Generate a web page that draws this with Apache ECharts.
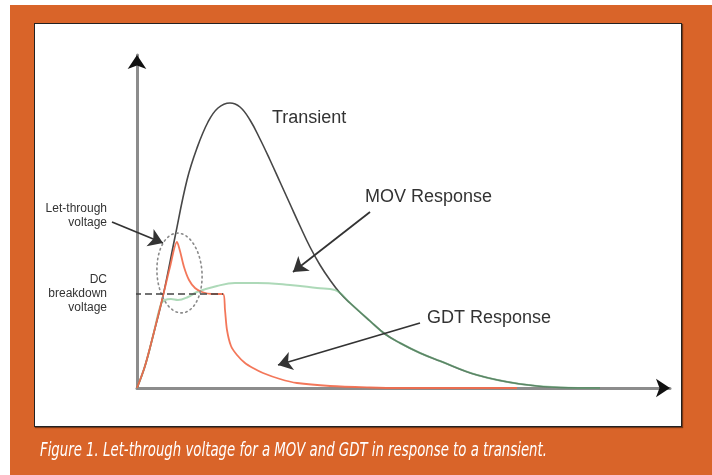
<!DOCTYPE html>
<html>
<head>
<meta charset="utf-8">
<script src="https://cdn.jsdelivr.net/npm/echarts@6/dist/echarts.min.js"></script>
<style>
  html, body { margin: 0; padding: 0; background: #fff; }
  #frame { position: absolute; left: 10px; top: 5px; width: 702px; height: 470px; background: #d96429; }
  #panel { position: absolute; left: 34px; top: 23px; width: 646px; height: 402px; background: #fff;
           border: 1px solid #222; box-shadow: 1px 1px 1px rgba(0, 0, 0, .45); }
  #chart { position: absolute; left: 0; top: 0; width: 712px; height: 475px; }
  #caption { position: absolute; left: 40px; top: 438px; color: #fff; white-space: nowrap;
             font: italic 19px "Liberation Sans Narrow", "DejaVu Sans Condensed", sans-serif;
             transform-origin: 0 50%; }
</style>
</head>
<body>
<div id="frame"></div>
<div id="panel"></div>
<div id="chart"></div>
<div id="caption">Figure 1. Let-through voltage for a MOV and GDT in response to a transient.</div>
<script>
// curves in [time, voltage], arbitrary units (1 unit ~ 1 px of the figure)
const transient = [
  [0, 0], [8, 22], [16, 52], [26, 92], [38, 151], [50, 208], [60, 240], [71, 266], [81, 280],
  [93, 285], [103, 281], [113, 268], [123, 249], [133, 228], [143, 206], [153, 184], [163, 162],
  [173, 141], [183, 123], [193, 108], [203, 95], [213, 85], [233, 67], [248, 54], [263, 45],
  [283, 35], [303, 27], [340, 13], [383, 4], [423, 0.5], [463, 0]
];
const movResponse = [
  [0, 0], [8, 22], [16, 52], [24, 84], [28, 88], [34, 89], [41, 88], [51, 91], [60, 96],
  [80, 102], [98, 105], [120, 105], [153, 103], [180, 100], [198, 98], [213, 85], [233, 67],
  [248, 54], [263, 45], [283, 35], [303, 27], [340, 13], [383, 4], [423, 0.5], [463, 0]
];
const gdtResponse = [
  [0, 0], [8, 22], [16, 52], [26, 92], [33, 121], [40, 146], [43, 137], [47, 121], [52, 108],
  [58, 100], [65, 96], [75, 94], [86, 94], [88, 78], [90, 58], [94, 42], [100, 33], [108, 25],
  [116, 20], [126, 15], [143, 9], [160, 5], [193, 2], [233, 0.5], [263, 0], [380, 0]
];
const dcBreakdown = [[-25, 94], [86, 94]];
const arrows = [
  [[-25, 166], [26, 145]],   // let-through voltage
  [[233, 176], [156, 116]],  // MOV response
  [[283, 65], [141, 23]]     // GDT response
];
const axisEnds = [
  [[0, 323], [0, 333]],
  [[523, 0], [533, 0]]
];
const letThroughEllipse = [42.5, 115, 22.5, 40];

const chart = echarts.init(document.getElementById('chart'), null, { renderer: 'canvas' });

const hiddenAxis = (max) => ({
  type: 'value',
  min: 0,
  max: max,
  axisLine: {
    show: true,
    onZero: false,
    lineStyle: { color: '#8c8c8c', width: 3 },
  },
  axisTick: { show: false },
  axisLabel: { show: false },
  splitLine: { show: false },
});

const label = (text, x, y, size, align) => ({
  type: 'text',
  x: x,
  y: y,
  style: {
    text: text,
    font: size + 'px "Liberation Sans", Arial, sans-serif',
    fill: '#333',
    textAlign: align || 'left',
    textVerticalAlign: 'middle',
  },
});

chart.setOption({
  animation: false,
  backgroundColor: 'transparent',
  grid: { left: 137, right: 42, top: 55, bottom: 87 },
  xAxis: hiddenAxis(533),
  yAxis: hiddenAxis(333),
  graphic: [
    label('Transient', 272, 118, 18),
    label('MOV Response', 365, 197, 18),
    label('GDT Response', 427, 318, 18),
    label('Let-through', 107, 209, 12, 'right'),
    label('voltage', 107, 223, 12, 'right'),
    label('DC', 107, 280, 12, 'right'),
    label('breakdown', 107, 294, 12, 'right'),
    label('voltage', 107, 308, 12, 'right'),
  ],
  series: [
    {
      name: 'Transient',
      type: 'line',
      data: transient,
      smooth: 0.4,
      symbol: 'none',
      lineStyle: { color: '#474747', width: 1.6 },
      z: 3,
    },
    {
      name: 'MOV Response',
      type: 'line',
      data: movResponse,
      smooth: 0.4,
      symbol: 'none',
      lineStyle: { color: 'rgba(105,185,125,0.55)', width: 2 },
      z: 4,
    },
    {
      name: 'GDT Response',
      type: 'line',
      data: gdtResponse,
      smooth: 0.3,
      symbol: 'none',
      lineStyle: { color: '#f26b4c', width: 1.8, opacity: 0.92 },
      z: 5,
    },
    {
      name: 'DC breakdown',
      type: 'line',
      data: dcBreakdown,
      symbol: 'none',
      clip: false,
      lineStyle: { color: '#444', width: 1.5, type: [7, 4] },
      z: 6,
    },
    {
      type: 'lines',
      coordinateSystem: 'cartesian2d',
      clip: false,
      symbol: ['none', 'arrow'],
      symbolSize: [10, 14],
      lineStyle: { color: '#333', width: 1.8, opacity: 1, curveness: 0 },
      data: arrows.map((c) => ({ coords: c })),
      z: 7,
    },
    {
      // black arrow heads at the ends of the two axes
      type: 'lines',
      coordinateSystem: 'cartesian2d',
      clip: false,
      symbol: ['none', 'arrow'],
      symbolSize: [10, 14],
      lineStyle: { color: '#111', width: 0.01, opacity: 1, curveness: 0 },
      data: axisEnds.map((c) => ({ coords: c })),
      z: 7,
    },
    {
      type: 'custom',
      clip: false,
      data: [letThroughEllipse],
      z: 6,
      renderItem: function (params, api) {
        const c = api.coord([api.value(0), api.value(1)]);
        const s = api.size([api.value(2), api.value(3)]);
        const tilt = -0.07;
        const pts = [];
        for (let i = 0; i <= 72; i++) {
          const t = (i / 72) * 2 * Math.PI;
          const ex = s[0] * Math.cos(t);
          const ey = s[1] * Math.sin(t);
          pts.push([
            c[0] + ex * Math.cos(tilt) - ey * Math.sin(tilt),
            c[1] + ex * Math.sin(tilt) + ey * Math.cos(tilt),
          ]);
        }
        return {
          type: 'polygon',
          shape: { points: pts },
          style: { fill: 'none', stroke: '#8a8a8a', lineWidth: 1.6, lineDash: [1.5, 3.5], lineCap: 'round' },
        };
      },
    },
  ],
});

// squeeze the caption to the width it has in the figure
const cap = document.getElementById('caption');
cap.style.transform = 'scaleX(' + (507 / cap.getBoundingClientRect().width) + ')';
</script>
</body>
</html>
